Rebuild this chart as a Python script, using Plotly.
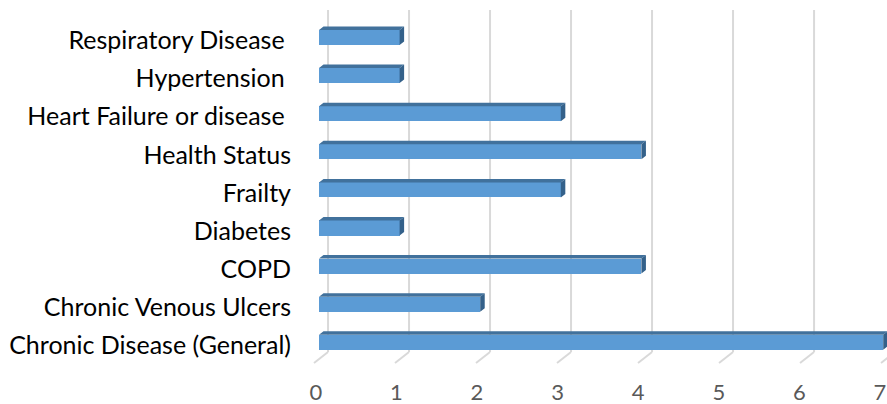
import plotly.graph_objects as go

# Data (bottom to top on the category axis)
categories = [
    "Chronic Disease (General)",
    "Chronic Venous Ulcers",
    "COPD",
    "Diabetes",
    "Frailty",
    "Health Status",
    "Heart Failure or disease ",
    "Hypertension ",
    "Respiratory Disease ",
]
counts = [7, 2, 4, 1, 3, 4, 3, 1, 1]
x_ticks = [0, 1, 2, 3, 4, 5, 6, 7]

# 3-D look: geometry in axis units
HALF = 0.197          # half height of the front face of a bar
DX, DY = 0.056, 0.092 # depth offset of the top / side faces
WALL_DX, WALL_SCALE = 0.112, 1.005
WALL_TOP, WALL_BOTTOM = 8.72, -0.255
FLOOR_FRONT, FLOOR_DX = -0.543, -0.174
LABEL_SHIFT = -0.04   # value labels sit at the front edge of the floor

FRONT = "#5B9BD5"
TOP = "#41719C"
SIDE = "#34618A"
GRID = "#D9D9D9"

ypos = list(range(len(categories)))

fig = go.Figure()

# Front faces
fig.add_trace(go.Bar(
    y=ypos, x=counts, orientation="h", width=2 * HALF, base=0,
    marker=dict(color=FRONT, line=dict(width=0)),
    hoverinfo="skip", showlegend=False,
))

# Top and side faces as filled polygons
top_x, top_y, side_x, side_y = [], [], [], []
for y, v in zip(ypos, counts):
    t = y + HALF
    b = y - HALF
    top_x += [0, DX, v + DX, v, 0, None]
    top_y += [t, t + DY, t + DY, t, t, None]
    side_x += [v, v + DX, v + DX, v, v, None]
    side_y += [t, t + DY, b + DY, b, t, None]

fig.add_trace(go.Scatter(x=top_x, y=top_y, fill="toself", fillcolor=TOP,
                         mode="lines", line=dict(width=0, color=TOP),
                         hoverinfo="skip", showlegend=False))
fig.add_trace(go.Scatter(x=side_x, y=side_y, fill="toself", fillcolor=SIDE,
                         mode="lines", line=dict(width=0, color=SIDE),
                         hoverinfo="skip", showlegend=False))

# Back-wall gridlines and floor lines
shapes = []
for k in x_ticks:
    xb = k * WALL_SCALE + WALL_DX
    shapes.append(dict(type="line", xref="x", yref="y", layer="below",
                       x0=xb, x1=xb, y0=WALL_BOTTOM, y1=WALL_TOP,
                       line=dict(color=GRID, width=2)))
    shapes.append(dict(type="line", xref="x", yref="y", layer="below",
                       x0=xb, x1=xb + FLOOR_DX, y0=WALL_BOTTOM, y1=FLOOR_FRONT,
                       line=dict(color=GRID, width=2)))

fig.update_layout(
    width=887, height=404,
    margin=dict(l=300, r=0, t=0, b=34, autoexpand=False),
    paper_bgcolor="white", plot_bgcolor="white",
    shapes=shapes,
    bargap=0,
    font=dict(family="Lato", color="#000000"),
    xaxis=dict(range=[-0.2357, 7.047],
               tickvals=[k + LABEL_SHIFT for k in x_ticks],
               ticktext=[str(v) for v in x_ticks],
               showgrid=False, zeroline=False, showline=False, ticks="",
               tickfont=dict(size=22, color="#595959", family="Lato"),
               ticklabelstandoff=7, ticklabeloverflow="allow",
               automargin=False),
    yaxis=dict(range=[-0.727, 8.984],
               tickvals=[p - 0.08 for p in ypos], ticktext=categories,
               showgrid=False, zeroline=False, showline=False, ticks="",
               tickfont=dict(size=25, color="#000000", family="Lato"),
               ticklabelstandoff=8, automargin=False),
)

fig.write_html("out.html")
